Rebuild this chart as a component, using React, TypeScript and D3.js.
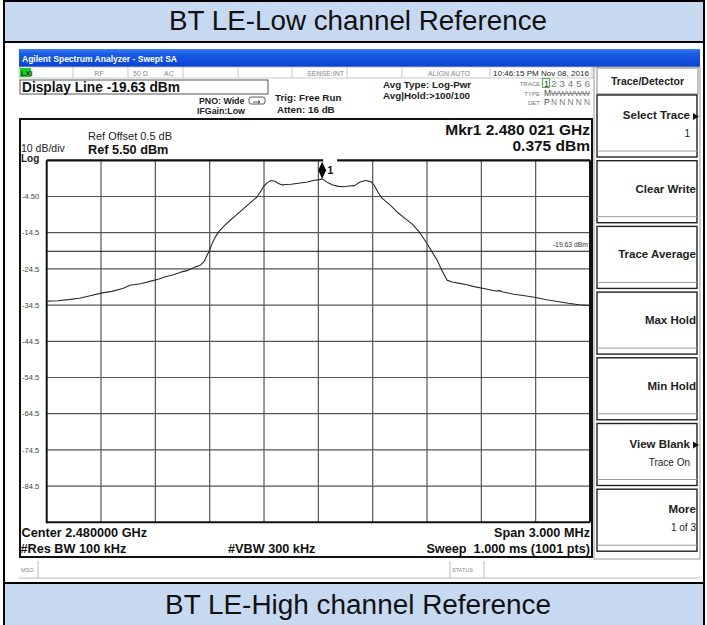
import React from 'react';
import * as d3 from 'd3';

// analyzer settings
const CENTER_MHZ = 2480;
const SPAN_MHZ = 3;
const REF_LEVEL = 5.5;
const DB_PER_DIV = 10;
const DISPLAY_LINE = -19.63;
const MARKER_MHZ = 2480.021;
const MARKER_DBM = 0.375;

// trace 1 (offset from centre in MHz, level in dBm)
const offsetMHz = [
  -1.5, -1.44, -1.38, -1.32, -1.26, -1.2, -1.14, -1.08, -1.04, -0.98, -0.92, -0.88, -0.84, -0.8,
  -0.76, -0.72, -0.68, -0.65, -0.63, -0.615, -0.6, -0.585, -0.57, -0.55, -0.52, -0.49, -0.46,
  -0.43, -0.4, -0.37, -0.34, -0.32, -0.3, -0.28, -0.26, -0.24, -0.22, -0.2, -0.18, -0.15, -0.12,
  -0.09, -0.06, -0.03, 0, 0.021, 0.05, 0.08, 0.11, 0.14, 0.17, 0.2, 0.23, 0.26, 0.29, 0.31, 0.33,
  0.35, 0.4, 0.44, 0.48, 0.52, 0.56, 0.6, 0.63, 0.655, 0.68, 0.71, 0.74, 0.78, 0.82, 0.86, 0.92,
  0.98, 1.0, 1.02, 1.04, 1.08, 1.14, 1.2, 1.26, 1.32, 1.38, 1.44, 1.5,
];
const levelDbm = [
  -33.4, -33.3, -33.0, -32.6, -31.9, -31.2, -30.7, -29.9, -29.0, -28.6, -27.8, -27.3, -26.6, -26.1,
  -25.4, -24.9, -24.0, -23.4, -22.4, -20.8, -19.3, -17.3, -15.8, -14.2, -12.6, -11.2, -9.9,
  -8.6, -7.3, -6.0, -4.7, -3.2, -1.6, -0.6, -0.1, -0.3, -0.9, -1.3, -1.2, -1.1, -0.9,
  -0.7, -0.5, -0.1, 0.1, 0.375, -0.6, -1.3, -1.7, -1.8, -1.6, -1.5, -0.5, -0.1, -0.4, -1.5, -3.4,
  -4.9, -7.0, -9.0, -10.6, -12.2, -14.5, -17.5, -20.0, -22.0, -24.7, -27.6, -28.1, -28.5, -28.9, -29.4, -30.0,
  -30.6, -30.5, -30.9, -31.1, -31.5, -31.9, -32.4, -33.0, -33.5, -34.0, -34.4, -34.6,
];

const yTickLabels = ['-4.50', '-14.5', '-24.5', '-34.5', '-44.5', '-54.5', '-64.5', '-74.5', '-84.5'];

const softKeys = [
  { label: 'Select Trace', sub: '1', arrow: true },
  { label: 'Clear Write', sub: '', arrow: false },
  { label: 'Trace Average', sub: '', arrow: false },
  { label: 'Max Hold', sub: '', arrow: false },
  { label: 'Min Hold', sub: '', arrow: false },
  { label: 'View Blank', sub: 'Trace On', arrow: true },
  { label: 'More', sub: '1 of 3', arrow: false },
];

const statusCells = [20, 73, 128, 183, 238, 292, 347, 402, 490, 592];

const FONT = 'Liberation Sans, Arial, sans-serif';

export default function App() {
  const plot = { left: 46.7, right: 590, top: 160.3, bottom: 522.3 };
  const x = d3.scaleLinear()
    .domain([CENTER_MHZ - SPAN_MHZ / 2, CENTER_MHZ + SPAN_MHZ / 2])
    .range([plot.left, plot.right]);
  const y = d3.scaleLinear()
    .domain([REF_LEVEL - DB_PER_DIV * 10, REF_LEVEL])
    .range([plot.bottom, plot.top]);

  const xDivs = d3.range(0, 11).map(i => CENTER_MHZ - SPAN_MHZ / 2 + i * SPAN_MHZ / 10);
  const yDivs = d3.range(0, 11).map(i => REF_LEVEL - i * DB_PER_DIV);

  const line = d3.line<number>()
    .x((d, i) => x(CENTER_MHZ + offsetMHz[i]))
    .y(d => y(d));

  const mx = x(MARKER_MHZ);
  const my = y(MARKER_DBM);
  const dl = y(DISPLAY_LINE);

  return (
    <div style={{ position: 'absolute', left: 0, top: 0 }}>
      <svg width={707} height={625} style={{ display: 'block', fontFamily: FONT }}>
        <defs>
          <linearGradient id="xpbar" x1="0" y1="0" x2="0" y2="1">
            <stop offset="0" stopColor="#3d7cf2" />
            <stop offset="0.25" stopColor="#1a5ee6" />
            <stop offset="1" stopColor="#0a42cf" />
          </linearGradient>
        </defs>
        <rect x={0} y={0} width={707} height={625} fill="#fff" />

        {/* report table bands */}
        <rect x={4} y={1} width={700} height={41} fill="#c6d9f1" stroke="#000" strokeWidth={2} />
        <text x={358} y={30} textAnchor="middle" fontSize={27} fill="#111" textLength={378} lengthAdjust="spacingAndGlyphs">BT LE-Low channel Reference</text>
        <rect x={4} y={42} width={700} height={541} fill="none" stroke="#000" strokeWidth={2} />
        <rect x={4} y={583} width={700} height={44} fill="#c6d9f1" stroke="#000" strokeWidth={2} />
        <text x={358} y={614} textAnchor="middle" fontSize={27} fill="#111" textLength={386} lengthAdjust="spacingAndGlyphs">BT LE-High channel Reference</text>

        {/* window title */}
        <rect x={19} y={49} width={681} height={18} fill="url(#xpbar)" />
        <text x={22} y={61.5} fontSize={9} fontWeight="bold" fill="#fff" textLength={155} lengthAdjust="spacingAndGlyphs">Agilent Spectrum Analyzer - Swept SA</text>

        {/* status row */}
        <rect x={19} y={67} width={575} height={11} fill="#fff" stroke="#bbb" strokeWidth={0.8} />
        {statusCells.map(c => (
          <line key={c} x1={c} x2={c} y1={67} y2={78} stroke="#bbb" strokeWidth={0.8} />
        ))}
        <rect x={20} y={68} width={11} height={9} fill="#10d020" />
        <text x={21} y={76} fontSize={7.5} fontWeight="bold" fill="#333">LXI</text>
        <text x={99} y={75.5} fontSize={7} fill="#888" textAnchor="middle">RF</text>
        <text x={133} y={75.5} fontSize={7} fill="#888">50 Ω</text>
        <text x={164} y={75.5} fontSize={7} fill="#888">AC</text>
        <text x={344} y={75.5} fontSize={7} fill="#888" textAnchor="end">SENSE:INT</text>
        <text x={470} y={75.5} fontSize={7} fill="#888" textAnchor="end">ALIGN AUTO</text>
        <text x={493} y={75.5} fontSize={7.6} fill="#222" textLength={96} lengthAdjust="spacingAndGlyphs">10:46:15 PM Nov 08, 2016</text>

        {/* setup info */}
        <rect x={20} y={80} width={248} height={14} fill="#fff" stroke="#555" strokeWidth={1} />
        <text x={22} y={91.5} fontSize={14} fontWeight="bold" fill="#111" textLength={158} lengthAdjust="spacingAndGlyphs">Display Line -19.63 dBm</text>
        <text x={199} y={104} fontSize={8.8} fontWeight="bold" fill="#222">PNO: Wide</text>
        <text x={197} y={114} fontSize={8.8} fontWeight="bold" fill="#222">IFGain:Low</text>
        <rect x={249} y={97} width={16} height={7} rx={2} fill="none" stroke="#333" strokeWidth={0.8} />
        <path d="M253,102 L260,102 M258,100.5 L260,102 L258,103.5" fill="none" stroke="#333" strokeWidth={0.8} />
        <text x={275} y={100.5} fontSize={9.8} fontWeight="bold" fill="#222">Trig: Free Run</text>
        <text x={277} y={112.5} fontSize={9.8} fontWeight="bold" fill="#222">Atten: 16 dB</text>
        <text x={383} y={88} fontSize={9.8} fontWeight="bold" fill="#222">Avg Type: Log-Pwr</text>
        <text x={383} y={98.5} fontSize={9.8} fontWeight="bold" fill="#222">Avg|Hold:&gt;100/100</text>

        {/* trace table */}
        <text x={540} y={86} fontSize={6} fill="#777" textAnchor="end">TRACE</text>
        <text x={540} y={95.5} fontSize={6} fill="#777" textAnchor="end">TYPE</text>
        <text x={540} y={104.5} fontSize={6} fill="#777" textAnchor="end">DET</text>
        <rect x={542.5} y={78.5} width={7} height={9} fill="none" stroke="#2a2" strokeWidth={0.8} />
        <text x={544} y={86.5} fontSize={9} fill="#333">1</text>
        <text x={551} y={86.5} fontSize={9} fill="#777" textLength={39} lengthAdjust="spacingAndGlyphs">2 3 4 5 6</text>
        <text x={544} y={96} fontSize={8.5} fill="#444">M</text>
        <text x={551} y={96} fontSize={8} fill="#777" textDecoration="line-through" textLength={39} lengthAdjust="spacingAndGlyphs">WWWWW</text>
        <text x={544} y={105} fontSize={8.5} fill="#444">P</text>
        <text x={551} y={105} fontSize={8.5} fill="#777" textLength={39} lengthAdjust="spacingAndGlyphs">N N N N N</text>

        {/* right softkey panel */}
        <rect x={594} y={67} width={106} height={492} fill="#fff" stroke="#999" strokeWidth={1} />
        <rect x={597} y={68} width={101} height={26} fill="#fff" stroke="#888" strokeWidth={1} />
        <text x={647.5} y={85} fontSize={10.5} fontWeight="bold" fill="#222" textAnchor="middle">Trace/Detector</text>
        {softKeys.map((k, i) => {
          const top = 95 + i * 65.7;
          const two = k.sub !== '';
          return (
            <g key={k.label}>
              <rect x={597} y={top} width={100} height={62} fill="#fff" stroke="#222" strokeWidth={1.4} />
              <line x1={597} x2={697} y1={top + 56} y2={top + 56} stroke="#999" strokeWidth={1} />
              <text x={k.arrow ? 690 : 696} y={two ? top + 24 : top + 32} fontSize={11.5} fontWeight="bold" fill="#222" textAnchor="end">{k.label}</text>
              {k.arrow && <path d={`M693,${top + 18} L699,${top + 21.5} L693,${top + 25} Z`} fill="#111" />}
              {two && <text x={k.arrow ? 690 : 696} y={top + 42} fontSize={10} fill="#222" textAnchor="end">{k.sub}</text>}
            </g>
          );
        })}

        {/* display frame */}
        <rect x={20} y={119} width={572} height={438} fill="#fff" stroke="#111" strokeWidth={2} />
        <text x={21} y={151.5} fontSize={10.5} fill="#222">10 dB/div</text>
        <text x={21} y={161.5} fontSize={10} fontWeight="bold" fill="#222">Log</text>
        <text x={88} y={139.5} fontSize={10.5} fill="#222" textLength={84} lengthAdjust="spacingAndGlyphs">Ref Offset 0.5 dB</text>
        <text x={88} y={153.5} fontSize={12.7} fontWeight="bold" fill="#111">Ref 5.50 dBm</text>
        <text x={590} y={134.5} fontSize={15.5} fontWeight="bold" fill="#111" textAnchor="end">Mkr1 2.480 021 GHz</text>
        <text x={590} y={150.5} fontSize={15.5} fontWeight="bold" fill="#111" textAnchor="end">0.375 dBm</text>

        {/* graticule */}
        {xDivs.slice(1, -1).map(f => (
          <line key={f} x1={x(f)} x2={x(f)} y1={plot.top} y2={plot.bottom} stroke="#555" strokeWidth={1.2} />
        ))}
        {yDivs.slice(1, -1).map(v => (
          <line key={v} x1={plot.left} x2={plot.right} y1={y(v)} y2={y(v)} stroke="#555" strokeWidth={1.2} />
        ))}
        {yTickLabels.map((t, i) => (
          <text key={t} x={22} y={y(yDivs[i + 1]) + 2.7} fontSize={7.6} fill="#444">{t}</text>
        ))}
        <line x1={plot.left} x2={plot.left} y1={plot.top} y2={plot.bottom + 1} stroke="#111" strokeWidth={2} />
        <line x1={plot.left} x2={plot.right} y1={plot.bottom} y2={plot.bottom} stroke="#111" strokeWidth={2} />
        <line x1={plot.right} x2={plot.right} y1={plot.top} y2={plot.bottom} stroke="#111" strokeWidth={2} />
        <line x1={plot.left} x2={mx + 1} y1={plot.top} y2={plot.top} stroke="#111" strokeWidth={2.2} />
        <line x1={mx + 15} x2={plot.right} y1={plot.top} y2={plot.top} stroke="#111" strokeWidth={2.2} />

        {/* display line */}
        <line x1={plot.left} x2={plot.right} y1={dl} y2={dl} stroke="#111" strokeWidth={1} />
        <text x={588} y={dl - 4} fontSize={6.8} fill="#333" textAnchor="end">-19.63 dBm</text>

        {/* trace */}
        <path d={line(levelDbm) || ''} fill="none" stroke="#2a2a2a" strokeWidth={1.1} strokeLinejoin="round" />

        {/* marker 1 */}
        <path d={`M${mx},${my - 17} L${mx + 4},${my - 8.5} L${mx},${my} L${mx - 4},${my - 8.5} Z`} fill="#000" />
        <text x={mx + 5} y={my - 5} fontSize={11} fontWeight="bold" fill="#111">1</text>

        {/* footer */}
        <text x={21.5} y={537} fontSize={12.7} fontWeight="bold" fill="#111">Center 2.480000 GHz</text>
        <text x={20.5} y={552.5} fontSize={12.7} fontWeight="bold" fill="#111">#Res BW 100 kHz</text>
        <text x={228} y={552.5} fontSize={12.7} fontWeight="bold" fill="#111">#VBW 300 kHz</text>
        <text x={590} y={537} fontSize={12.7} fontWeight="bold" fill="#111" textAnchor="end">Span 3.000 MHz</text>
        <text x={590} y={552.5} fontSize={12.7} fontWeight="bold" fill="#111" textAnchor="end" xmlSpace="preserve">Sweep  1.000 ms (1001 pts)</text>

        {/* message bar */}
        <line x1={19} x2={700} y1={578} y2={578} stroke="#bbb" strokeWidth={1} />
        <line x1={38} x2={38} y1={561} y2={578} stroke="#bbb" strokeWidth={1} />
        <line x1={450} x2={450} y1={561} y2={578} stroke="#bbb" strokeWidth={1} />
        <line x1={484} x2={484} y1={561} y2={578} stroke="#bbb" strokeWidth={1} />
        <text x={21} y={572} fontSize={5.5} fill="#888">MSG</text>
        <text x={452} y={572} fontSize={5.5} fill="#888">STATUS</text>
      </svg>
    </div>
  );
}
